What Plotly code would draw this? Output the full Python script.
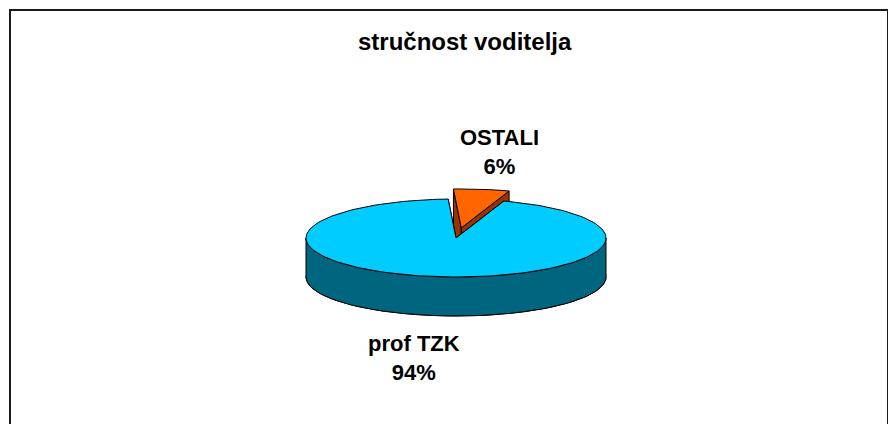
import numpy as np
import plotly.graph_objects as go

# ---- data ----
categories = ["OSTALI", "prof TZK"]
values = [6, 94]
chart_title = "stručnost voditelja"

# ---- style ----
top_colors = ["#FF6600", "#00CCFF"]
side_colors = ["#993300", "#006680"]
explode = [0.26, 0.0]
label_pos = [(491, 144), (406, 350)]

W, H = 896, 424
CX, CY, RX, RY, DEPTH = 448, 230, 150, 39, 39
START = -3.0


def pt(theta, r=1.0, sx=0.0, sy=0.0, drop=0.0):
    t = np.radians(theta)
    return CX + RX * r * np.sin(t) + sx, CY - RY * r * np.cos(t) + sy + drop


def arc(a0, a1, sx, sy, drop=0.0, n=None):
    if n is None:
        n = max(4, int(abs(a1 - a0) / 2) + 2)
    th = np.linspace(a0, a1, n)
    xs, ys = pt(th, 1.0, sx, sy, drop)
    return list(xs), list(ys)


def poly(xs, ys, color):
    return go.Scatter(x=xs + [xs[0]], y=ys + [ys[0]], mode="lines", fill="toself",
                      fillcolor=color, line=dict(color="black", width=1),
                      hoverinfo="skip", showlegend=False)


total = float(sum(values))
slices = []
a = START
for i, v in enumerate(values):
    span = 360.0 * v / total
    slices.append((i, a, a + span))
    a += span

# draw back slices first
order = sorted(slices, key=lambda s: -np.cos(np.radians((s[1] + s[2]) / 2)))

traces = []
for i, a0, a1 in order:
    mid = (a0 + a1) / 2
    e = explode[i]
    sx = RX * e * np.sin(np.radians(mid))
    sy = -RY * e * np.cos(np.radians(mid))
    cx, cy = CX + sx, CY + sy
    # bottom face
    bx, by = arc(a0, a1, sx, sy, DEPTH)
    traces.append(poly([cx] + bx, [cy + DEPTH] + by, side_colors[i]))
    # radial walls
    for ang in (a0, a1):
        px, py = pt(ang, 1.0, sx, sy)
        traces.append(poly([cx, px, px, cx], [cy, py, py + DEPTH, cy + DEPTH], side_colors[i]))
    # outer front wall (visible between 90 and 270 deg)
    lo, hi = max(a0, 90.0), min(a1, 270.0)
    if hi > lo:
        tx, ty = arc(lo, hi, sx, sy)
        ux, uy = arc(hi, lo, sx, sy, DEPTH)
        traces.append(poly(tx + ux, ty + uy, side_colors[i]))
    # top face
    tx, ty = arc(a0, a1, sx, sy)
    traces.append(poly([cx] + tx, [cy] + ty, top_colors[i]))

fig = go.Figure(traces)

annotations = [dict(x=457, y=33, xref="x", yref="y", text=chart_title, showarrow=False,
                    font=dict(family="Liberation Sans, Arial", size=24, color="black", weight="bold"))]
for i, cat in enumerate(categories):
    pct = round(100 * values[i] / total)
    lx, ly = label_pos[i]
    annotations.append(dict(x=lx, y=ly, xref="x", yref="y", text=f"{cat}<br>{pct}%",
                            showarrow=False,
                            font=dict(family="Liberation Sans, Arial", size=22, color="black",
                                      weight="bold")))

fig.update_layout(
    width=W, height=H, margin=dict(l=0, r=0, t=0, b=0, pad=0),
    paper_bgcolor="white", plot_bgcolor="white",
    xaxis=dict(range=[0, W], visible=False, fixedrange=True),
    yaxis=dict(range=[H, 0], visible=False, fixedrange=True),
    annotations=annotations,
    shapes=[dict(type="path", path=f"M 2 {H+5} L 2 2 L 880 2 L 880 {H+5}",
                 xref="x", yref="y", line=dict(color="#1a1a1a", width=2))],
    showlegend=False,
)

fig.write_html("out.html")
